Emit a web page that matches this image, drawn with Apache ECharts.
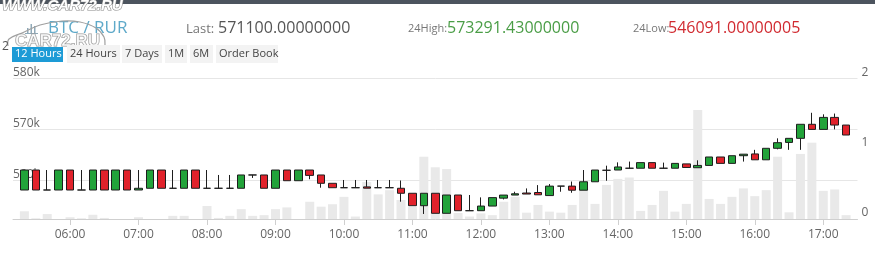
<!DOCTYPE html>
<html><head><meta charset="utf-8">
<script src="https://cdn.jsdelivr.net/npm/echarts@6/dist/echarts.min.js"></script>
<style>html,body{margin:0;padding:0;background:#fff}#c{width:875px;height:254px}</style>
</head><body><div id="c"></div>
<script>
// 10-minute slots; first and last slot are empty padding
const times = ['05:10','05:20','05:30','05:40','05:50','06:00','06:10','06:20','06:30','06:40','06:50',
'07:00','07:10','07:20','07:30','07:40','07:50','08:00','08:10','08:20','08:30','08:40','08:50',
'09:00','09:10','09:20','09:30','09:40','09:50','10:00','10:10','10:20','10:30','10:40','10:50',
'11:00','11:10','11:20','11:30','11:40','11:50','12:00','12:10','12:20','12:30','12:40','12:50',
'13:00','13:10','13:20','13:30','13:40','13:50','14:00','14:10','14:20','14:30','14:40','14:50',
'15:00','15:10','15:20','15:30','15:40','15:50','16:00','16:10','16:20','16:30','16:40','16:50',
'17:00','17:10','17:20','17:30'];
const opens = [558140,562050,558140,558140,562050,558140,558140,562050,558140,562050,
558140,558480,562050,558480,558480,562050,558480,558480,558480,558480,
561080,561080,558480,562050,559960,562050,561080,559450,558590,558590,
558750,558590,558590,558480,557500,555070,557500,553580,557160,554090,
554090,555000,556550,557150,557550,557650,557050,558900,558900,558100,
559750,562000,562050,562400,562400,563500,562400,562400,563250,562500,
562950,564600,563350,564850,565200,564050,566300,567450,568250,571000,
570000,572350,570850];
const closes = [562050,558140,558140,562050,558140,558140,562050,558140,562050,558140,
558480,562050,558480,558480,562050,558480,558480,558480,558480,561080,
561080,558480,562050,559960,562050,561000,559450,558590,558590,558590,
558500,558590,558590,557500,555070,557500,553580,557160,554090,554090,
555000,556650,557150,557400,557350,557200,558900,558900,558100,559750,
562050,562000,562650,562400,563500,562400,562400,563350,562550,562950,
564600,563350,564850,565150,564050,566300,567400,568250,571000,570000,
572350,570850,568900];
const lows = [558140,558140,558140,558140,558140,558140,558140,558140,558140,558140,
558140,558480,558480,558480,558480,558480,558480,558480,558480,558480,
560500,558480,558480,559960,559960,560250,558590,558590,558590,558590,
558500,558590,558590,555850,555070,553450,553580,553580,554090,554090,
554090,555000,556300,557150,557350,557200,557050,557800,557600,558100,
559750,559950,562050,562400,562400,562400,562400,562400,562550,562500,
562950,563350,563350,563700,564050,564050,566100,566000,566000,570000,
570000,570000,568900];
const highs = [562050,562050,562050,562050,562050,562050,562050,562050,562050,562050,
562050,562050,562050,562050,562050,562050,562050,561080,561080,561080,
561080,561080,562050,562050,562050,562050,561080,559450,560100,560100,
560100,560100,560100,560000,557500,557500,557500,557160,557160,557160,
556700,556650,557150,557800,558450,559100,559300,558900,559800,562050,
562050,562900,563550,563700,563500,563500,563500,563350,563250,563950,
564600,564600,564850,565150,566000,566300,568250,568250,571000,573250,
572950,573100,570850];
const volumes = [0.11,0.01,0.07,0,0.025,0.01,0.06,0.015,0,0,
0.025,0,0,0.045,0.045,0,0.185,0.015,0.045,0.14,
0.045,0.055,0.14,0.165,0,0.245,0.175,0.21,0.315,0.035,
0.525,0.35,0.41,0.27,0.17,0.885,0.735,0.71,0.085,0.035,
0.08,0.055,0.245,0.315,0.09,0.2,0.105,0.09,0.2,0.425,
0.215,0.485,0.57,0.59,0.115,0.2,0.4,0.105,0.215,1.55,
0.285,0.215,0.315,0.435,0.325,0.41,0.885,0.095,0.925,1.085,
0.4,0.42,0.055];
const priceTicks = {min:550000, max:580000, step:10000};
const volTicks = {min:0, max:2, step:1};

const candleData = [['-','-','-','-']].concat(
  opens.map((o,i)=>[o, closes[i], lows[i], highs[i]]), [['-','-','-','-']]);
const volData = ['-'].concat(volumes, ['-']);
const hourOnly = (i, v) => /:00$/.test(v);

const F = '"Open Sans", sans-serif';
const T = (text, x, y, font, fill, extra) => ({type:'text',
  style:Object.assign({text, x, y, verticalAlign:'middle', font, fill}, extra || {})});
const chart = echarts.init(document.getElementById('c'), null, {renderer:'canvas'});
chart.setOption({
  animation:false,
  backgroundColor:'#fff',
  grid:[
    {left:13, right:17.5, top:78.3, height:153.3},
    {left:13, right:17.5, top:78.3, height:140.7}
  ],
  xAxis:[
    {type:'category', gridIndex:0, data:times, boundaryGap:false, show:false},
    {type:'category', gridIndex:1, data:times, boundaryGap:false,
     axisLine:{lineStyle:{color:'#cfcfcf'}},
     axisTick:{interval:hourOnly, length:6, lineStyle:{color:'#cfcfcf'}},
     axisLabel:{interval:hourOnly, margin:10, color:'#666', fontSize:12, fontFamily:F},
     splitLine:{show:false}}
  ],
  yAxis:[
    {type:'value', gridIndex:0, min:priceTicks.min, max:priceTicks.max, interval:priceTicks.step,
     position:'left', axisLine:{show:false}, axisTick:{show:false},
     axisLabel:{inside:true, margin:0, showMinLabel:false, verticalAlign:'bottom',
       color:'#666', fontSize:12, fontFamily:F, formatter:v=>(v/1000)+'k'},
     splitLine:{show:true, showMinLine:false, lineStyle:{color:'#e6e6e6'}}},
    {type:'value', gridIndex:1, min:volTicks.min, max:volTicks.max, interval:volTicks.step,
     position:'right', axisLine:{show:false}, axisTick:{show:false}, splitLine:{show:false},
     axisLabel:{margin:4, verticalAlign:'bottom', color:'#666', fontSize:12, fontFamily:F}}
  ],
  series:[
    {type:'bar', xAxisIndex:1, yAxisIndex:1, data:volData, barWidth:9,
     itemStyle:{color:'#e9e9e9'}, z:1, silent:true},
    {type:'candlestick', xAxisIndex:0, yAxisIndex:0, data:candleData, barWidth:8, z:3,
     itemStyle:{color:'#22a33a', color0:'#e1222b', borderColor:'#1e1e1e', borderColor0:'#1e1e1e',
       borderColorDoji:'#1e1e1e', borderWidth:1}}
  ],
  graphic:[
    {type:'rect', shape:{x:0,y:0,width:875,height:4}, style:{fill:'#4c545e'}},
    T('WWW.CAR72.RU', 2, 6, 'italic bold 15px "Liberation Sans", sans-serif', '#ffffff', {stroke:'#8a8a8a', lineWidth:1.2}),
    {type:'rect', shape:{x:27,y:28,width:1.5,height:5}, style:{fill:'#8fa9b8'}},
    {type:'rect', shape:{x:30.5,y:24,width:1.5,height:9}, style:{fill:'#8fa9b8'}},
    {type:'rect', shape:{x:34,y:26,width:1.5,height:7}, style:{fill:'#8fa9b8'}},
    {type:'rect', shape:{x:25,y:33,width:13,height:1}, style:{fill:'#8fa9b8'}},
    T('BTC / RUR', 48, 28, '17px '+F, '#5ea9c9'),
    T('Last:', 186, 29, '13px '+F, '#777'),
    T('571100.00000000', 218, 28, '16px '+F, '#555'),
    T('24High:', 408, 29, '11px '+F, '#777'),
    T('573291.43000000', 447, 28, '16px '+F, '#4a9d46'),
    T('24Low:', 633, 29, '11px '+F, '#777'),
    T('546091.00000005', 668, 28, '16px '+F, '#d12a30'),
    {type:'polyline', shape:{points:[[8,46],[9,39],[22,33],[40,25],[62,21],[80,22],[96,28],[104,37],[105,45]], smooth:0.4},
     style:{fill:null, stroke:'#a0a0a0', lineWidth:1.2}},
    T('CAR72.RU', 15, 41, 'bold 17px "Liberation Sans", sans-serif', 'rgba(255,255,255,0.55)', {stroke:'#999', lineWidth:1}),
    T('2', 2, 47, '12px '+F, '#555'),
    {type:'rect', shape:{x:67,y:45,width:53,height:18}, style:{fill:'#f3f3f3'}},
    {type:'rect', shape:{x:122,y:45,width:40,height:18}, style:{fill:'#f3f3f3'}},
    {type:'rect', shape:{x:165,y:45,width:22,height:18}, style:{fill:'#f3f3f3'}},
    {type:'rect', shape:{x:190,y:45,width:23,height:18}, style:{fill:'#f3f3f3'}},
    {type:'rect', shape:{x:216,y:45,width:62,height:18}, style:{fill:'#f3f3f3'}},
    {type:'rect', shape:{x:12,y:47,width:51,height:15}, style:{fill:'#1d9bd6'}},
    T('12 Hours', 15, 54, '11px '+F, '#fff'),
    T('24 Hours', 70, 54, '11px '+F, '#444'),
    T('7 Days', 125, 54, '11px '+F, '#444'),
    T('1M', 168, 54, '11px '+F, '#444'),
    T('6M', 193, 54, '11px '+F, '#444'),
    T('Order Book', 219, 54, '11px '+F, '#444')
  ]
});
</script></body></html>
